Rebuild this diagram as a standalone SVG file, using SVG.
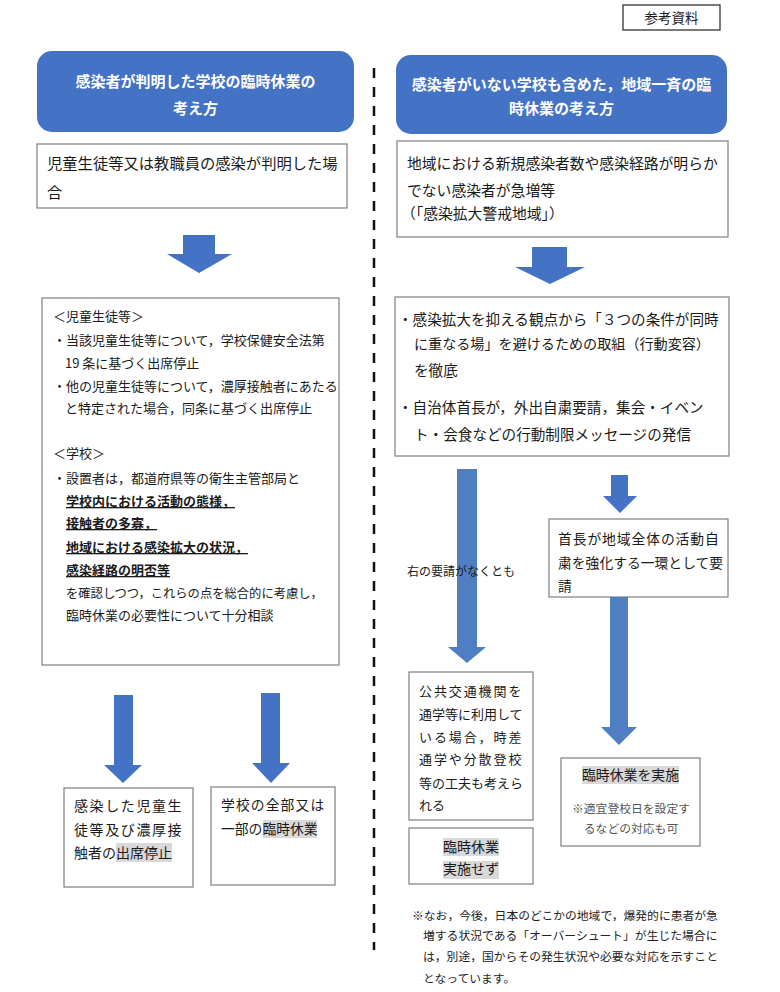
<svg xmlns="http://www.w3.org/2000/svg" width="780" height="992" viewBox="0 0 780 992">
<style>
text{font-family:"Noto Sans CJK JP","Noto Sans",sans-serif;fill:#1a1a1a}
.box{fill:#fff;stroke:#7f7f7f;stroke-width:1.2}
.hdr{fill:#4472C4}
.ht{fill:#fff;font-weight:700;font-size:15px}
.arr{fill:#4472C4}
.arr2{fill:#4F7FC2}
.hl{fill:#d9d9d9}
.s13{font-size:13px}
.mincho{font-family:"Liberation Serif","Noto Sans CJK JP",serif;font-size:11.8px;fill:#222}
.u{font-weight:700;text-decoration:underline}
</style>
<rect width="780" height="992" fill="#fff"/>

<g id="ref-label">
<rect x="623" y="5" width="97" height="25" fill="#fff" stroke="#333" stroke-width="1.3"/>
<text x="671.5" y="22.5" font-size="13.5" text-anchor="middle">参考資料</text>
</g>

<g id="divider">
<line x1="374" y1="68" x2="374" y2="950" stroke="#111" stroke-width="2.5" stroke-dasharray="10 9"/>
</g>

<g id="left-header">
<rect class="hdr" x="37" y="51" width="317" height="81" rx="15"/>
<text class="ht" x="195.5" y="86.7" text-anchor="middle">感染者が判明した学校の臨時休業の</text>
<text class="ht" x="195.5" y="113.7" text-anchor="middle">考え方</text>
</g>

<g id="left-case">
<rect class="box" x="37" y="144" width="310" height="64"/>
<text x="47" y="169" font-size="15.3">児童生徒等又は教職員の感染が判明した場</text>
<text x="47" y="198" font-size="15.3">合</text>
</g>

<g id="left-measures">
<rect class="box" x="42" y="298" width="297" height="367"/>
<g class="s13">
<text x="53" y="321">＜児童生徒等＞</text>
<text x="53" y="345">・当該児童生徒等について，学校保健安全法第</text>
<text x="65" y="368">19 条に基づく出席停止</text>
<text x="53" y="391">・他の児童生徒等について，濃厚接触者にあたる</text>
<text x="65" y="413">と特定された場合，同条に基づく出席停止</text>
<text x="53" y="458">＜学校＞</text>
<text x="53" y="483">・設置者は，都道府県等の衛生主管部局と</text>
<text class="u" x="66" y="506">学校内における活動の態様，</text>
<text class="u" x="66" y="528">接触者の多寡，</text>
<text class="u" x="66" y="552">地域における感染拡大の状況，</text>
<text class="u" x="66" y="575">感染経路の明否等</text>
<text x="66" y="598" font-size="12.3">を確認しつつ，これらの点を総合的に考慮し，</text>
<text x="66" y="620">臨時休業の必要性について十分相談</text>
</g>
</g>

<g id="left-result-a">
<rect class="box" x="64" y="788" width="129" height="99"/>
<rect class="hl" x="116" y="843" width="56" height="19"/>
<text x="74" y="811.3" font-size="14" letter-spacing="1.6">感染した児童生</text>
<text x="74" y="835.3" font-size="14" letter-spacing="1.6">徒等及び濃厚接</text>
<text x="74" y="858.3" font-size="14">触者の出席停止</text>
</g>

<g id="left-result-b">
<rect class="box" x="211" y="787" width="124" height="98"/>
<rect class="hl" x="263" y="820" width="54" height="18"/>
<text x="221" y="810" font-size="13.8" letter-spacing="1.1">学校の全部又は</text>
<text x="221" y="834" font-size="13.8">一部の臨時休業</text>
</g>

<g id="right-header">
<rect class="hdr" x="396" y="55" width="331" height="79" rx="15"/>
<text class="ht" x="561.5" y="90" text-anchor="middle">感染者がいない学校も含めた，地域一斉の臨</text>
<text class="ht" x="561.5" y="114" text-anchor="middle">時休業の考え方</text>
</g>

<g id="right-case">
<rect class="box" x="397" y="141" width="331" height="96"/>
<text x="407" y="168.6" font-size="14.8">地域における新規感染者数や感染経路が明らか</text>
<text x="407" y="195.6" font-size="14.8">でない感染者が急増等</text>
<text x="401" y="218.6" font-size="14.8">（「感染拡大警戒地域」）</text>
</g>

<g id="right-measures">
<rect class="box" x="395" y="297" width="334" height="159"/>
<text x="398" y="324.5" font-size="14.6">・感染拡大を抑える観点から「３つの条件が同時</text>
<text x="414" y="348.5" font-size="14.1">に重なる場」を避けるための取組（行動変容）</text>
<text x="414" y="375.5" font-size="14.6">を徹底</text>
<text x="398" y="412.5" font-size="14.6">・自治体首長が，外出自粛要請，集会・イベン</text>
<text x="414" y="439.5" font-size="14.6">ト・会食などの行動制限メッセージの発信</text>
</g>

<g id="right-request">
<rect class="box" x="549" y="519" width="179" height="78"/>
<text x="558" y="543.6" font-size="13.8" letter-spacing="0.9">首長が地域全体の活動自</text>
<text x="558" y="567.6" font-size="13.8">粛を強化する一環として要</text>
<text x="558" y="590.6" font-size="13.8">請</text>
</g>

<g id="right-transport">
<rect class="box" x="409" y="672" width="124" height="148"/>
<g font-size="13">
<text x="419" y="695.7" letter-spacing="1.9">公共交通機関を</text>
<text x="419" y="718.7">通学等に利用して</text>
<text x="419" y="741.7" letter-spacing="1.9">いる場合，時差</text>
<text x="419" y="763.7" letter-spacing="1.9">通学や分散登校</text>
<text x="419" y="787.7">等の工夫も考えら</text>
<text x="419" y="809.7">れる</text>
</g>
</g>

<g id="right-no-closure">
<rect class="box" x="409" y="828" width="124" height="56"/>
<rect class="hl" x="443" y="838" width="56" height="18"/>
<rect class="hl" x="443" y="861" width="56" height="18"/>
<text x="471" y="852.3" font-size="14" text-anchor="middle">臨時休業</text>
<text x="471" y="874.3" font-size="14" text-anchor="middle">実施せず</text>
</g>

<g id="right-closure">
<rect class="box" x="561" y="758" width="139" height="88"/>
<rect class="hl" x="582" y="766" width="97" height="18"/>
<text x="630.5" y="780.3" font-size="13.9" text-anchor="middle">臨時休業を実施</text>
<text class="mincho" x="631" y="812.5" text-anchor="middle" style="fill:#555">※適宜登校日を設定す</text>
<text class="mincho" x="631" y="832.5" text-anchor="middle" style="fill:#555">るなどの対応も可</text>
</g>

<g id="footnote">
<text class="mincho" x="412" y="919.5">※なお，今後，日本のどこかの地域で，爆発的に患者が急</text>
<text class="mincho" x="423" y="939.5">増する状況である「オーバーシュート」が生じた場合に</text>
<text class="mincho" x="423" y="960.5">は，別途，国からその発生状況や必要な対応を示すこと</text>
<text class="mincho" x="423" y="982.5">となっています。</text>
</g>

<g id="connectors">
<polygon class="arr" points="183,235 215,235 215,254 232,254 199,273 167,254 183,254"/>
<polygon class="arr" points="114,695 133,695 133,765 142,765 123,783 104,765 114,765"/>
<polygon class="arr" points="261,693 280,693 280,763 290,763 271,783 252,763 261,763"/>
<polygon class="arr" points="532,247 567,247 567,267 585,267 550,284 515,267 532,267"/>
<polygon class="arr2" points="457,469 477,469 477,647 486,647 467,663 448,647 457,647"/>
<polygon class="arr" points="611,475 628,475 628,496 637,496 620,513 603,496 611,496"/>
<polygon class="arr2" points="610,597 628,597 628,727 637,727 619,745 601,727 610,727"/>
<text x="407" y="575.5" font-size="12" fill="#222">右の要請がなくとも</text>
</g>
</svg>
